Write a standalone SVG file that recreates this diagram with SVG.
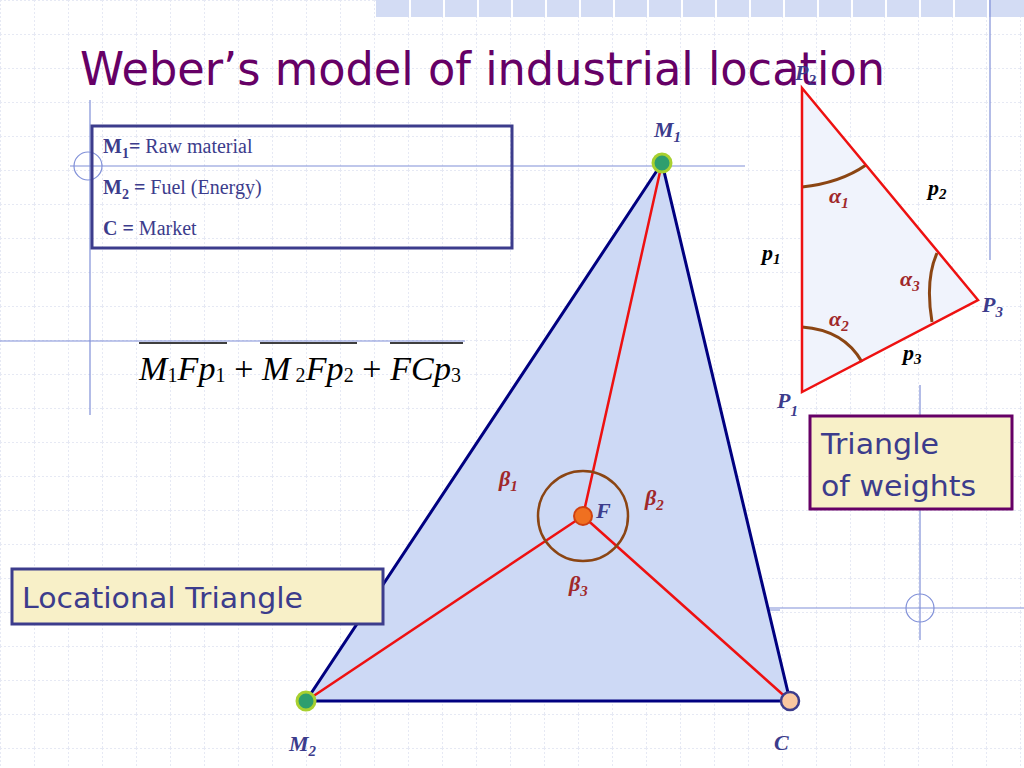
<svg xmlns="http://www.w3.org/2000/svg" width="1024" height="768" viewBox="0 0 1024 768">
<defs>
<pattern id="grid" width="34" height="34" patternUnits="userSpaceOnUse">
<path d="M0 0.5H34M0.5 0V34" stroke="#e6e9f4" stroke-width="1" stroke-dasharray="2 2" fill="none"/>
</pattern>
</defs>
<style>
.deco{stroke:#8090d8;stroke-width:1.2;fill:none}
.lab{font-family:"Liberation Serif",serif;font-style:italic;font-weight:bold;font-size:22px}
.ang{fill:#a0282a}
.blu{fill:#3c3c8c}
.red{stroke:#ee1111;stroke-width:2.5;fill:none}
.arc{stroke:#8b4513;stroke-width:3;fill:none}
</style>
<rect width="1024" height="768" fill="#fff"/>
<rect width="1024" height="768" fill="url(#grid)"/>
<g fill="#d3dcf4">
<rect x="376" y="0" width="648" height="17"/>
</g>
<g stroke="#fff" stroke-width="2">
<path d="M410 0V17M444 0V17M478 0V17M512 0V17M546 0V17M580 0V17M614 0V17M648 0V17M682 0V17M716 0V17M750 0V17M784 0V17M818 0V17M852 0V17M886 0V17M920 0V17M954 0V17M988 0V17"/>
</g>
<g class="deco">
<path d="M70 166H745M90 100V415M0 341H465M990 0V260M735 608H1024M920 385V640M600 610H780"/>
<circle cx="88" cy="166" r="14"/>
<circle cx="920" cy="608" r="14"/>
</g>
<text x="80" y="85" font-family="DejaVu Sans,sans-serif" font-size="46" fill="#660066" textLength="805" lengthAdjust="spacingAndGlyphs">Weber’s model of industrial location</text>
<g id="legend">
<rect x="92" y="126" width="420" height="122" fill="none" stroke="#3c3c8c" stroke-width="3"/>
<g font-family="Liberation Serif,serif" font-size="20" fill="#3c3c8c">
<text x="103" y="153"><tspan font-weight="bold">M</tspan><tspan font-weight="bold" font-size="14" dy="5">1</tspan><tspan font-weight="bold" dy="-5">=</tspan> Raw material</text>
<text x="103" y="194"><tspan font-weight="bold">M</tspan><tspan font-weight="bold" font-size="14" dy="5">2</tspan><tspan font-weight="bold" dy="-5"> =</tspan> Fuel (Energy)</text>
<text x="103" y="235"><tspan font-weight="bold">C =</tspan> Market</text>
</g>
</g>
<g id="formula">
<path d="M139 343H227M260 343H357M390 343H463" stroke="#000" stroke-width="1.3"/>
<text x="139" y="380" font-family="Liberation Serif,serif" font-size="34" font-style="italic" textLength="322">M<tspan font-style="normal" font-size="20" dy="2">1</tspan><tspan dy="-2">Fp</tspan><tspan font-style="normal" font-size="20" dy="2">1</tspan><tspan font-style="normal" dy="-2"> + </tspan>M<tspan font-style="normal" font-size="20" dy="2"> 2</tspan><tspan dy="-2">Fp</tspan><tspan font-style="normal" font-size="20" dy="2">2</tspan><tspan font-style="normal" dy="-2"> + </tspan>FCp<tspan font-style="normal" font-size="20" dy="2">3</tspan></text>
</g>
<g id="weights-triangle">
<polygon points="802,88 978,300 802,392" fill="#f0f3fc"/>
<path class="arc" d="M802 187 Q840 183 866 165"/>
<path class="arc" d="M802 327 Q844 330 862 362"/>
<path class="arc" d="M937 253 Q925 280 932 322"/>
<polygon class="red" points="802,88 978,300 802,392"/>
<text class="lab blu" x="795" y="80">P<tspan font-size="15" dy="5">2</tspan></text>
<text class="lab" x="928" y="195">p<tspan font-size="15" dy="4">2</tspan></text>
<text class="lab" x="762" y="260">p<tspan font-size="15" dy="4">1</tspan></text>
<text class="lab" x="903" y="360">p<tspan font-size="15" dy="4">3</tspan></text>
<text class="lab blu" x="982" y="312">P<tspan font-size="15" dy="5">3</tspan></text>
<text class="lab blu" x="777" y="408">P<tspan font-size="15" dy="8">1</tspan></text>
<text class="lab ang" x="829" y="203">α<tspan font-size="15" dy="5">1</tspan></text>
<text class="lab ang" x="829" y="326">α<tspan font-size="15" dy="5">2</tspan></text>
<text class="lab ang" x="900" y="286">α<tspan font-size="15" dy="5">3</tspan></text>
</g>
<g id="locational-triangle">
<polygon points="662,163 306,701 790,701" fill="#cdd9f5" stroke="#000080" stroke-width="3"/>
</g>
<g id="connectors">
<path class="red" d="M583 516L662 163M583 516L306 701M583 516L790 701"/>
<circle cx="583" cy="516" r="45" stroke="#8b4513" stroke-width="2.5" fill="none"/>
</g>
<g id="M1"><circle cx="662" cy="163" r="9" fill="#2e9e6e" stroke="#a8d030" stroke-width="3"/>
<text class="lab" x="654" y="137" fill="#3c3c8c">M<tspan font-size="15" dy="5">1</tspan></text></g>
<g id="M2"><circle cx="306" cy="701" r="9" fill="#2e9e6e" stroke="#a8d030" stroke-width="3"/>
<text class="lab" x="289" y="751" fill="#3c3c8c">M<tspan font-size="15" dy="5">2</tspan></text></g>
<g id="C"><circle cx="790" cy="701" r="9" fill="#fac8a0" stroke="#3c3c8c" stroke-width="2.5"/>
<text class="lab" x="774" y="750" fill="#3c3c8c">C</text></g>
<g id="F"><circle cx="583" cy="516" r="9" fill="#f07020" stroke="#d04010" stroke-width="2"/>
<text class="lab" x="596" y="518" fill="#3c3c8c">F</text></g>
<text class="lab ang" x="499" y="486">β<tspan font-size="15" dy="5">1</tspan></text>
<text class="lab ang" x="645" y="505">β<tspan font-size="15" dy="5">2</tspan></text>
<text class="lab ang" x="569" y="591">β<tspan font-size="15" dy="5">3</tspan></text>
<g id="label-locational">
<rect x="12" y="569" width="371" height="55" fill="#f8f0c8" stroke="#3c3c8c" stroke-width="3"/>
<text x="22" y="608" font-family="DejaVu Sans,sans-serif" font-size="28" fill="#3c3c8c" textLength="281" lengthAdjust="spacingAndGlyphs">Locational Triangle</text>
</g>
<g id="label-weights">
<rect x="810" y="416" width="202" height="93" fill="#f8f0c8" stroke="#660066" stroke-width="3"/>
<g font-family="DejaVu Sans,sans-serif" font-size="29" fill="#3c3c8c">
<text x="821" y="454" textLength="118" lengthAdjust="spacingAndGlyphs">Triangle</text>
<text x="821" y="496" textLength="155" lengthAdjust="spacingAndGlyphs">of weights</text>
</g>
</g>
</svg>
